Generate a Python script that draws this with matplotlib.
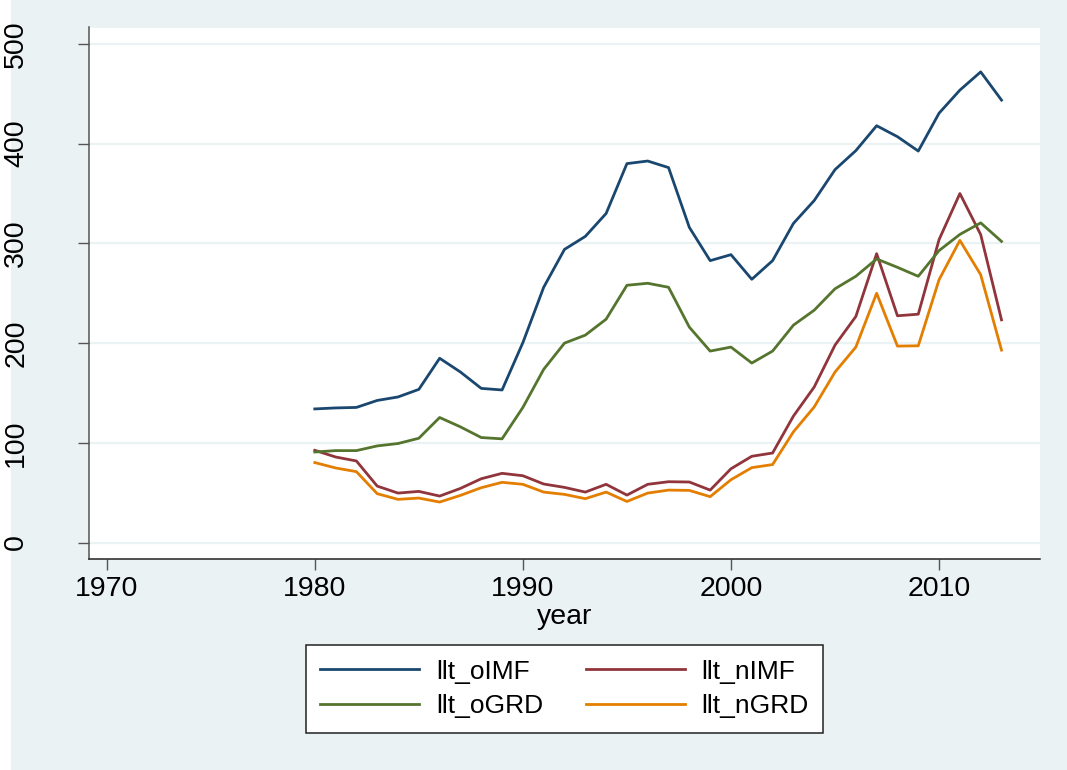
import matplotlib
matplotlib.use("Agg")
import matplotlib.pyplot as plt
from matplotlib.patches import Rectangle

plt.rcParams['font.family'] = ['Liberation Sans', 'DejaVu Sans']

# data, years 1980-2013
years = list(range(1980, 2014))
llt_oIMF = [134, 135, 135.5, 142.5, 146, 153.6, 184.8, 171, 154.6, 153,
            200.5, 256, 294, 307, 330, 380, 382.6, 376, 316, 282.7,
            288.7, 264, 282.7, 320, 343, 374, 393, 418, 407, 392.6,
            430.6, 453.7, 472, 443.7]
llt_nIMF = [92.5, 85.8, 81.8, 56.6, 49.6, 51.3, 46.6, 54.3, 64, 69.4,
            67, 58.7, 55.3, 50.6, 58.4, 47.6, 58.4, 61, 60.7, 52.6,
            74, 86.5, 89.8, 126.8, 156, 198, 226.7, 289.7, 227.4, 229,
            303.8, 350, 308.8, 223.3]
llt_oGRD = [90.8, 92.2, 92.2, 96.9, 99.3, 104.6, 125.4, 116, 105.3, 104,
            135.5, 173.7, 200, 208, 224, 258, 260, 256, 216, 192,
            196, 180, 192, 218, 233, 254.5, 267, 284.4, 276, 267,
            292.8, 309, 320.6, 302]
llt_nGRD = [80.2, 74.8, 71.1, 49, 43.3, 44.6, 40.6, 47.3, 55, 60.4,
            58.4, 50.6, 48.3, 44, 50.6, 41.2, 49.6, 52.6, 52.3, 46,
            63, 75.1, 78.2, 111, 136, 171, 196, 250, 197, 197.3,
            263.6, 303, 268.6, 193]

xticks = [1970, 1980, 1990, 2000, 2010]
yticks = [0, 100, 200, 300, 400, 500]

bg = '#eaf2f3'
W, H = 1067, 770
fig = plt.figure(figsize=(W / 100, H / 100), dpi=100, facecolor=bg)
# white strip on the left edge of the screenshot
fig.patches.append(Rectangle((0, 0), 11 / W, 1, transform=fig.transFigure,
                             facecolor='white', edgecolor='none', zorder=-5))

# plot area in pixels: left 89, right 1040, top 27.5, bottom 559
ax = fig.add_axes([89 / W, 1 - 559 / H, (1040 - 89) / W, (559 - 27.5) / H])
ax.set_facecolor('white')
ax.set_zorder(2)

ax.plot(years, llt_oIMF, color='#1a476f', lw=2.0, label='llt_oIMF')
ax.plot(years, llt_nIMF, color='#90353b', lw=2.0, label='llt_nIMF')
ax.plot(years, llt_oGRD, color='#55752f', lw=2.0, label='llt_oGRD')
ax.plot(years, llt_nGRD, color='#e37e00', lw=2.0, label='llt_nGRD')

ax.set_xlim(1969.15, 2014.85)
ax.set_ylim(-16.5, 516.5)
ax.set_xticks(xticks)
ax.set_yticks(yticks)
ax.grid(axis='y', color='#eaf2f3', lw=1.6)
ax.set_axisbelow(True)

for s in ['top', 'right']:
    ax.spines[s].set_visible(False)
ax.spines['left'].set_color('#555555')
ax.spines['bottom'].set_color('#222222')
ax.spines['left'].set_linewidth(1.1)
ax.spines['bottom'].set_linewidth(1.1)

ax.tick_params(axis='x', length=8, width=1, color='#555555', labelsize=20.5, pad=4.5)
ax.tick_params(axis='y', length=8, width=1, color='#555555', labelsize=20.5,
               pad=35, labelrotation=90)
for lab in ax.get_yticklabels():
    lab.set_va('center')

fig.text(565 / W, 1 - 624 / H, 'year', ha='center', va='baseline', fontsize=20.5)

h, l = ax.get_legend_handles_labels()
order = [0, 2, 1, 3]
leg = fig.legend([h[i] for i in order], [l[i] for i in order], ncol=2,
                 loc='center', bbox_to_anchor=(564.5 / W, 1 - 689 / H),
                 fontsize=19, frameon=True, fancybox=False, edgecolor='#222222',
                 framealpha=1, handlelength=3.75, handletextpad=0.65, columnspacing=1.6,
                 labelspacing=0.4, borderpad=0.55, borderaxespad=0)
leg.get_frame().set_linewidth(1.1)

fig.savefig('out.png', dpi=100, facecolor=bg)
